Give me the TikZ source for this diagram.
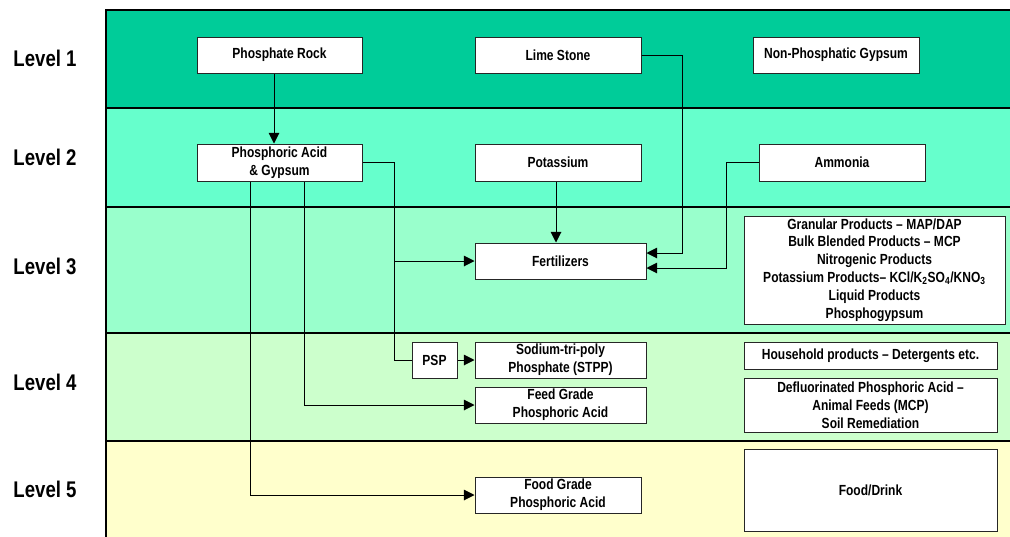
\documentclass[tikz,border=0pt]{standalone}
\usepackage{fontspec}
\setmainfont{Liberation Sans}[FakeStretch=0.82]
\usetikzlibrary{arrows.meta}
\definecolor{lvA}{HTML}{00CC99}
\definecolor{lvB}{HTML}{66FFCC}
\definecolor{lvC}{HTML}{99FFCC}
\definecolor{lvD}{HTML}{CCFFCC}
\definecolor{lvE}{HTML}{FFFFCC}
\begin{document}
\begin{tikzpicture}[x=0.75pt,y=-0.75pt,
  band/.style={draw=black,line width=0.8pt},
  box/.style={draw=black!85,fill=white,line width=0.75pt,inner sep=0pt,align=center,
    font=\bfseries\fontsize{11pt}{13.4pt}\selectfont},
  lvl/.style={font=\bfseries\fontsize{17pt}{20pt}\selectfont},
  conn/.style={draw=black,line width=0.75pt},
  arr/.style={conn,-{Triangle[length=8pt,width=8pt]}}]
\useasboundingbox (0,0) rectangle (1010,536);
% bands
\path[band,fill=lvA] (106,10) rectangle (1012,108);
\path[band,fill=lvB] (106,108) rectangle (1012,207);
\path[band,fill=lvC] (106,207) rectangle (1012,333);
\path[band,fill=lvD] (106,333) rectangle (1012,441);
\path[band,fill=lvE] (106,441) rectangle (1012,540);
% level labels
\node[lvl] (l1) at (45,58) {Level 1};
\node[lvl] (l2) at (45,157) {Level 2};
\node[lvl] (l3) at (45,266) {Level 3};
\node[lvl] (l4) at (45,382) {Level 4};
\node[lvl] (l5) at (45,489) {Level 5};
% boxes
\node[box,minimum width=123.75pt,minimum height=27pt] (pr) at (279.5,55) {Phosphate Rock};
\node[box,minimum width=124.5pt,minimum height=27pt] (ls) at (558,55) {Lime Stone};
\node[box,minimum width=124.5pt,minimum height=27pt] (npg) at (836,55) {Non-Phosphatic Gypsum};
\node[box,minimum width=123.75pt,minimum height=27.75pt] (pag) at (279.5,162.5) {Phosphoric Acid\\\& Gypsum};
\node[box,minimum width=124.5pt,minimum height=27.75pt] (pot) at (558,162.5) {Potassium};
\node[box,minimum width=124.5pt,minimum height=27.75pt] (amm) at (842,162.5) {Ammonia};
\node[box,minimum width=128.25pt,minimum height=27pt] (fert) at (560.5,261) {Fertilizers};
\node[box,minimum width=195.75pt,minimum height=81pt] (gran) at (874.5,270) {Granular Products -- MAP/DAP\\Bulk Blended Products -- MCP\\Nitrogenic Products\\Potassium Products-- KCl/K\textsubscript{2}SO\textsubscript{4}/KNO\textsubscript{3}\\Liquid Products\\Phosphogypsum};
\node[box,minimum width=33.75pt,minimum height=27pt] (psp) at (434.5,360) {PSP};
\node[box,minimum width=128.25pt,minimum height=27pt] (stpp) at (560.5,360) {Sodium-tri-poly\\Phosphate (STPP)};
\node[box,minimum width=189.75pt,minimum height=20.25pt] (house) at (870.5,355.5) {Household products -- Detergents etc.};
\node[box,minimum width=128.25pt,minimum height=27pt] (feed) at (560.5,405) {Feed Grade\\Phosphoric Acid};
\node[box,minimum width=189.75pt,minimum height=40.5pt] (defl) at (870.5,405) {Defluorinated Phosphoric Acid --\\Animal Feeds (MCP)\\Soil Remediation};
\node[box,minimum width=124.5pt,minimum height=27pt] (food) at (558,495) {Food Grade\\Phosphoric Acid};
\node[box,minimum width=189.75pt,minimum height=61.5pt] (fd) at (870.5,490) {Food/Drink};
% connectors
\draw[arr] (pr.south -| 274,0) -- (pag.north -| 274,0);
\draw[arr] (ls.east) -| (682,253) -- (fert.east |- 0,253);
\draw[arr] (amm.west) -| (726,268) -- (fert.east |- 0,268);
\draw[arr] (pot.south -| 556,0) -- (fert.north -| 556,0);
\draw[conn] (pag.east) -| (394,360) -- (psp.west);
\draw[arr] (394,261) -- (fert.west);
\draw[arr] (psp.east) -- (stpp.west);
\draw[arr] (pag.south -| 304,0) |- (feed.west);
\draw[arr] (pag.south -| 250,0) |- (food.west);
\end{tikzpicture}
\end{document}
